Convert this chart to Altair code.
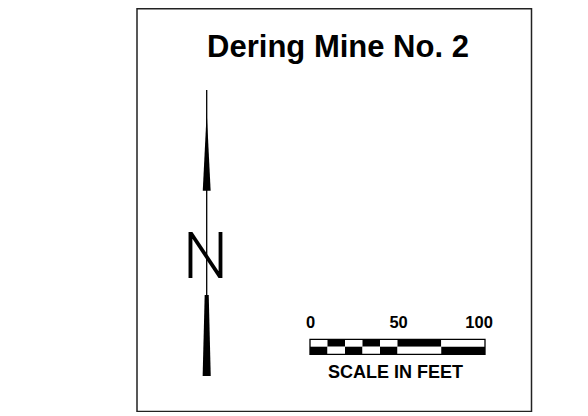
import altair as alt
import pandas as pd

# ---- data ----
title_text = "Dering Mine No. 2"
seg_start = [0, 10, 20, 30, 40, 50, 75]          # feet
seg_end = [10, 20, 30, 40, 50, 75, 100]          # feet
top_fill = ["white", "black", "white", "black", "white", "black", "white"]
bottom_fill = ["black", "white", "black", "white", "black", "white", "black"]
tick_labels = ["0", "50", "100"]
tick_pos = [0.3, 50.6, 96.6]                     # feet (label centres)
scale_caption = "SCALE IN FEET"
north_label = "N"

# ---- layout (pixels inside the chart area) ----
W, H = 572, 404
PX_PER_FT = 1.75
X0 = 302.0                                        # pixel of 0 ft
xdom = [-X0 / PX_PER_FT, (W - X0) / PX_PER_FT]
xs = alt.Scale(domain=xdom, range=[0, W], nice=False, zero=False)

BAR_TOP, BAR_MID, BAR_BOT = 331.3, 338.7, 346.3
ARROW_X = 198.7

segs = pd.DataFrame({"s": seg_start, "e": seg_end, "top": top_fill, "bot": bottom_fill})
ticks = pd.DataFrame({"pos": tick_pos, "lab": tick_labels})
one = pd.DataFrame({"k": [0]})

frame = alt.Chart(one).mark_rect(fill=None, stroke="#222", strokeWidth=1.5).encode(
    x=alt.value(129), x2=alt.value(523.5), y=alt.value(0.8), y2=alt.value(403.5)
)

title = alt.Chart(pd.DataFrame({"t": [title_text]})).mark_text(
    font="Liberation Sans", fontWeight="bold", fontSize=31, baseline="alphabetic", align="center"
).encode(x=alt.value(330), y=alt.value(48.7), text="t:N")

top_row = alt.Chart(segs).mark_rect(strokeWidth=0).encode(
    x=alt.X("s:Q", scale=xs, axis=None), x2="e:Q",
    y=alt.value(BAR_TOP), y2=alt.value(BAR_MID),
    color=alt.Color("top:N", scale=None),
)
bot_row = alt.Chart(segs).mark_rect(strokeWidth=0).encode(
    x=alt.X("s:Q", scale=xs, axis=None), x2="e:Q",
    y=alt.value(BAR_MID), y2=alt.value(BAR_BOT),
    color=alt.Color("bot:N", scale=None),
)
bar_border = alt.Chart(pd.DataFrame({"s": [seg_start[0]], "e": [seg_end[-1]]})).mark_rect(
    fill=None, stroke="black", strokeWidth=1.3
).encode(
    x=alt.X("s:Q", scale=xs, axis=None), x2="e:Q",
    y=alt.value(BAR_TOP), y2=alt.value(BAR_BOT),
)
tick_text = alt.Chart(ticks).mark_text(
    font="Liberation Sans", fontWeight="bold", fontSize=16.5, baseline="alphabetic", align="center"
).encode(x=alt.X("pos:Q", scale=xs, axis=None), y=alt.value(320.3), text="lab:N")

caption = alt.Chart(pd.DataFrame({"t": [scale_caption]})).mark_text(
    font="Liberation Sans", fontWeight="bold", fontSize=18, baseline="alphabetic", align="center"
).encode(x=alt.value(387.5), y=alt.value(369.7), text="t:N")

# north arrow
shaft = alt.Chart(one).mark_rule(color="black", strokeWidth=1.3).encode(
    x=alt.value(ARROW_X), y=alt.value(82), y2=alt.value(368)
)
upper = alt.Chart(one).mark_point(
    shape="M0,-1L0.1,1L-0.1,1Z", filled=True, color="black", opacity=1, size=6241
).encode(x=alt.value(ARROW_X), y=alt.value(143.2))
lower = alt.Chart(one).mark_point(
    shape="M-0.05,-1L0.05,-1L0.1,1L-0.1,1Z", filled=True, color="black", opacity=1, size=6561
).encode(x=alt.value(ARROW_X), y=alt.value(327.5))
nlab = alt.Chart(pd.DataFrame({"t": [north_label]})).mark_text(
    font="Roboto", fontWeight=300, fontSize=64, baseline="alphabetic", align="center"
).encode(x=alt.value(197.5), y=alt.value(270), text="t:N")

chart = alt.layer(
    frame, title, shaft, upper, lower, nlab, top_row, bot_row, bar_border, tick_text, caption
).properties(
    width=W, height=H, padding=0, autosize=alt.AutoSizeParams(type="none"), background="white"
).configure_view(stroke=None)

chart.save("out.html", embed_options={"renderer": "svg", "actions": False})
